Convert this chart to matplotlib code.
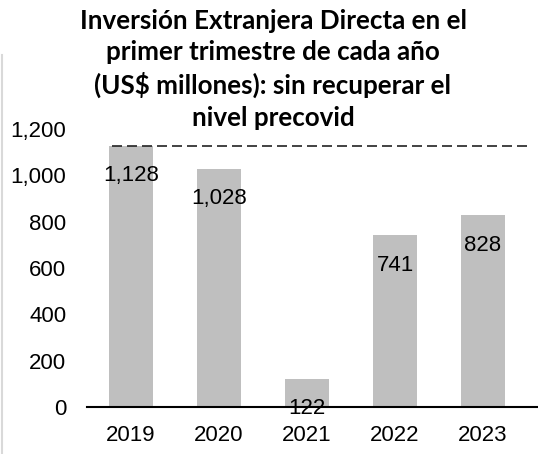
import matplotlib
matplotlib.use("Agg")
import matplotlib.pyplot as plt
from matplotlib.lines import Line2D

# dati
anni = ["2019", "2020", "2021", "2022", "2023"]
valori = [1128, 1028, 122, 741, 828]
etichette = ["1,128", "1,028", "122", "741", "828"]
livello_precovid = 1128
y_ticks = [0, 200, 400, 600, 800, 1000, 1200]
titolo = ("Inversión Extranjera Directa en el\nprimer trimestre de cada año\n"
          "(US$ millones): sin recuperar el\nnivel precovid")

W, H = 538, 454
fig = plt.figure(figsize=(W / 100, H / 100), dpi=100)
ax = fig.add_axes([87 / W, (H - 407) / H, (538 - 87) / W, (407 - 129) / H])

x = range(len(anni))
ax.bar(x, valori, width=0.5, color="#bfbfbf", zorder=2)
ax.plot([-0.22, 4.53], [livello_precovid, livello_precovid], color="#222222",
        lw=1.2, ls=(0, (6, 3)), zorder=3, clip_on=False)

for xi, v, t in zip(x, valori, etichette):
    ax.annotate(t, (xi, v), xytext=(0, -30), textcoords="offset pixels",
                ha="center", va="center", fontsize=16, family="Liberation Sans",
                zorder=4, annotation_clip=False)

ax.set_xlim(-0.5, 4.625)
ax.set_ylim(0, 1200)
ax.set_xticks(list(x))
ax.set_xticklabels(anni, family="Liberation Sans", fontsize=16)
ax.set_yticks(y_ticks)
ax.set_yticklabels([f"{v:,}" for v in y_ticks], family="Liberation Sans", fontsize=16)
ax.tick_params(length=0)
ax.tick_params(axis="y", pad=15)
ax.tick_params(axis="x", pad=13)
for s in ["top", "right", "left"]:
    ax.spines[s].set_visible(False)
ax.spines["bottom"].set_linewidth(1.5)
ax.spines["bottom"].set_zorder(5)

fig.text(273 / W, 1 - 9 / H, titolo, ha="center", va="top", fontsize=18.7,
         fontweight="bold", family="Lato", linespacing=1.36)

# bordo sinistro grigio
fig.add_artist(Line2D([2 / W, 2 / W], [0, 1 - 55 / H], transform=fig.transFigure,
                      color="#d9d9d9", lw=1.5))

fig.savefig("out.png", dpi=100)
